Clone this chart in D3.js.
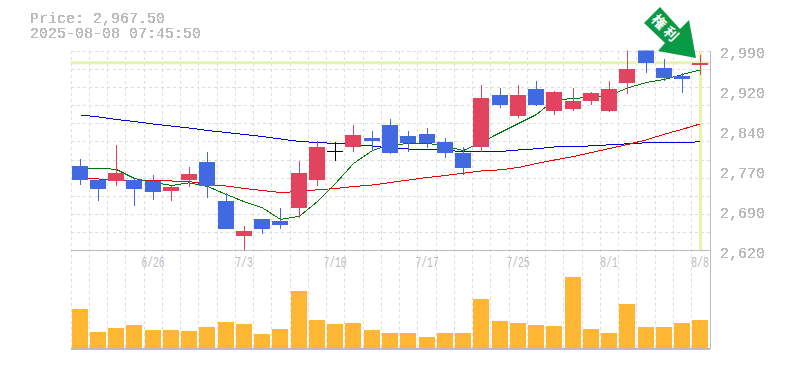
<!DOCTYPE html>
<html>
<head>
<meta charset="utf-8">
<script src="https://cdn.jsdelivr.net/npm/d3@7"></script>
<style>
  body { margin: 0; background: #fff; }
  svg { display: block; }
  text { font-family: "Liberation Mono", monospace; fill: #bbb; }
</style>
</head>
<body>
<svg id="chart" width="785" height="370"></svg>
<script>
const dates = ["6/20","6/23","6/24","6/25","6/26","6/27","6/30","7/1","7/2","7/3","7/4","7/7","7/8","7/9","7/10","7/11","7/14","7/15","7/16","7/17","7/18","7/22","7/23","7/24","7/25","7/28","7/29","7/30","7/31","8/1","8/4","8/5","8/6","8/7","8/8"];
const dateLabels = ["6/26","7/3","7/10","7/17","7/25","8/1","8/8"];

const opens  = [2777,2750,2748,2750,2748,2731,2750,2783,2711,2646,2679,2675.5,2698,2751,2804.5,2812,2829,2853,2831,2835,2820,2801,2812,2907,2868,2918,2879,2881,2896,2879,2929,2995,2957,2942,2964];
const closes = [2750,2733,2764,2733,2729,2737,2762,2738.5,2659,2657,2659,2668,2762.5,2812.4,2804.5,2834.6,2822,2801,2818,2818,2799.5,2772,2903,2890,2907,2890,2914,2897.5,2912,2918,2955,2966,2940,2938,2967.5];
const highs  = [2790,2750,2816,2755,2759,2740,2774,2803,2725.5,2666,2679,2698,2786.5,2823.5,2820,2853,2842,2864,2842,2847.5,2829,2812,2927,2920,2927,2933,2916,2921.5,2914,2934.5,2995,3000,2975,2949,2981];
const lows   = [2742,2711,2740,2703,2714,2712,2737,2718,2659,2618,2651,2659,2681,2740,2786.5,2803,2805,2798,2803,2809,2792,2760.6,2803,2883,2866,2888,2870,2879,2890,2877,2910,2949,2934.5,2912,2944];

const maShort = [2769.9,2772.6,2769.9,2753.2,2745.8,2740.3,2745.2,2738.4,2723.6,2710.1,2699,2677.4,2683.5,2710.7,2744,2780.9,2805,2816.1,2817.4,2818.5,2812.4,2805,2820.4,2838.3,2855,2871.6,2898.4,2901.2,2903.6,2906.8,2920.6,2930.8,2936.4,2945.6,2954.3];
const maMid   = [2754.1,2752.3,2750.4,2749.5,2748.6,2748.6,2747.6,2742.1,2739.3,2734.7,2731,2727.3,2729.2,2732.3,2734.7,2738.4,2741.2,2745.8,2750.4,2755.1,2758.8,2763,2767.1,2769.3,2773.6,2781,2787.4,2793.9,2801.3,2808.7,2816.1,2824.8,2835.2,2844.4,2854.4];
const maLong  = [2870.7,2867,2862.4,2858.6,2854,2850.3,2846.6,2842,2838.3,2834.6,2830.9,2826.3,2821.7,2819.8,2818,2816.1,2813.3,2809.6,2807.8,2806.9,2805,2803.2,2802.2,2803.2,2806,2808.2,2811.5,2811.9,2813.7,2815.5,2817.4,2819.3,2820.7,2819.8,2821.1];

const volumes = [3900,1600,2000,2300,1800,1800,1700,2100,2600,2400,1400,1900,5700,2800,2400,2500,1800,1500,1500,1100,1500,1500,4900,2700,2500,2300,2200,7100,1900,1500,4400,2100,2100,2500,2800];

const priceTicks = [2620,2694,2768,2842,2916,2990];
const priceLabels = ["2,620","2,690","2,770","2,840","2,920","2,990"];
const lastPrice = 2967.5;
const priceTitle = "Price: 2,967.50";
const timeTitle = "2025-08-08 07:45:50";
const badgeText = "権利";

const plotL = 70.5, plotR = 709.5, plotT = 50.5, priceB = 250.5, volB = 349;

const svg = d3.select("#chart");

const x = d3.scaleBand().domain(d3.range(dates.length)).range([plotL, plotR]);
const cx = i => Math.round(x(i) + x.bandwidth() / 2);
const y = d3.scaleLinear().domain([2620, 2990]).range([priceB, plotT]);
const yv = d3.scaleLinear().domain([0, 10000]).range([348, 248]);

const defs = svg.append("defs");
defs.append("clipPath").attr("id", "plot-clip").append("rect")
  .attr("x", plotL).attr("y", plotT).attr("width", plotR - plotL).attr("height", priceB - plotT);

// hard edged text, the reference has no antialiasing
defs.append("filter").attr("id", "crisp").append("feComponentTransfer")
  .append("feFuncA").attr("type", "discrete").attr("tableValues", "0 1 1");

// grid
const grid = svg.append("g").attr("stroke", "#ddd").attr("stroke-dasharray", "3,3").attr("shape-rendering", "crispEdges");
grid.selectAll(".v").data(d3.range(dates.length + 1)).enter().append("line")
  .attr("x1", i => Math.round(plotL + i * x.step()) + 0.5)
  .attr("x2", i => Math.round(plotL + i * x.step()) + 0.5)
  .attr("y1", plotT).attr("y2", volB);
grid.selectAll(".h").data(d3.range(0, 11)).enter().append("line")
  .attr("x1", plotL).attr("x2", plotR)
  .attr("y1", i => Math.round(plotT + i * 200 / 11) + 0.5)
  .attr("y2", i => Math.round(plotT + i * 200 / 11) + 0.5);

// last price cross
svg.append("line").attr("x1", plotL).attr("x2", plotR + 0.5)
  .attr("y1", y(lastPrice)).attr("y2", y(lastPrice))
  .attr("stroke", "#e4f6ad").attr("stroke-width", 3);
svg.append("line").attr("x1", cx(34) + 0.5).attr("x2", cx(34) + 0.5)
  .attr("y1", plotT).attr("y2", priceB)
  .attr("stroke", "#e4f6ad").attr("stroke-width", 3);

// frame
const frame = svg.append("g").attr("stroke", "#bbb").attr("shape-rendering", "crispEdges");
frame.append("line").attr("x1", plotR + 0.5).attr("x2", plotR + 0.5).attr("y1", plotT).attr("y2", volB);
frame.append("line").attr("x1", plotL).attr("x2", plotR + 0.5).attr("y1", priceB).attr("y2", priceB);
frame.append("line").attr("x1", plotL).attr("x2", plotR + 0.5).attr("y1", volB).attr("y2", volB).attr("stroke-width", 2);

// moving averages
const line = d3.line().x((d, i) => cx(i) + 0.5).y(d => y(d));
const maG = svg.append("g").attr("fill", "none").attr("shape-rendering", "crispEdges").attr("clip-path", "url(#plot-clip)");
maG.append("path").datum(maLong).attr("d", line).attr("stroke", "#0000e0");
maG.append("path").datum(maMid).attr("d", line).attr("stroke", "#ee0000");
maG.append("path").datum(maShort).attr("d", line).attr("stroke", "#007a00");

// candles
const upColor = "#e2445f", downColor = "#4169e1";
const color = i => closes[i] === opens[i] ? "#000" : closes[i] > opens[i] ? upColor : downColor;
const candles = svg.append("g").attr("clip-path", "url(#plot-clip)").attr("shape-rendering", "crispEdges");
candles.selectAll(".wick").data(d3.range(dates.length)).enter().append("line")
  .attr("x1", i => cx(i) + 0.5).attr("x2", i => cx(i) + 0.5)
  .attr("y1", i => y(highs[i])).attr("y2", i => y(lows[i]))
  .attr("stroke", color);
candles.selectAll(".body").data(d3.range(dates.length)).enter().append("rect")
  .attr("x", i => cx(i) - 8)
  .attr("y", i => y(Math.max(opens[i], closes[i])))
  .attr("width", 16)
  .attr("height", i => Math.max(1, Math.abs(y(opens[i]) - y(closes[i]))))
  .attr("fill", color);

// volume
svg.append("g").selectAll("rect").data(volumes).enter().append("rect")
  .attr("x", (d, i) => cx(i) - 8)
  .attr("y", d => yv(d))
  .attr("width", 16)
  .attr("height", d => yv(0) - yv(d))
  .attr("fill", "#ffb733");

// axis labels
const labels = svg.append("g").attr("filter", "url(#crisp)");
labels.selectAll(".price").data(priceTicks).enter().append("text")
  .attr("x", 720).attr("y", d => y(d) + 7)
  .attr("font-size", 15)
  .text((d, i) => priceLabels[i]);
svg.append("g").selectAll(".date").data(dateLabels).enter().append("text")
  .attr("x", d => cx(dates.indexOf(d)))
  .attr("y", 266.5)
  .attr("text-anchor", "middle")
  .attr("font-size", 14)
  .attr("textLength", d => d.length * 5.8)
  .attr("lengthAdjust", "spacingAndGlyphs")
  .text(d => d);

// title
labels.append("text").attr("x", 30).attr("y", 23).attr("font-size", 15).text(priceTitle);
labels.append("text").attr("x", 30).attr("y", 38).attr("font-size", 15).text(timeTitle);

// badge arrow pointing at the last candle
const badge = svg.append("g");
badge.append("polygon")
  .attr("points", "660,7 680,29 689,20 696,58 658,51 665,43 644,23")
  .attr("fill", "#0a9944");
badge.append("text")
  .attr("transform", "translate(666,29) rotate(45)")
  .attr("text-anchor", "middle").attr("dy", 5)
  .style("font-family", "'Noto Sans CJK JP'").style("font-weight", 700).style("fill", "#fff")
  .style("letter-spacing", "3px")
  .attr("font-size", 14)
  .text(badgeText);
</script>
</body>
</html>
